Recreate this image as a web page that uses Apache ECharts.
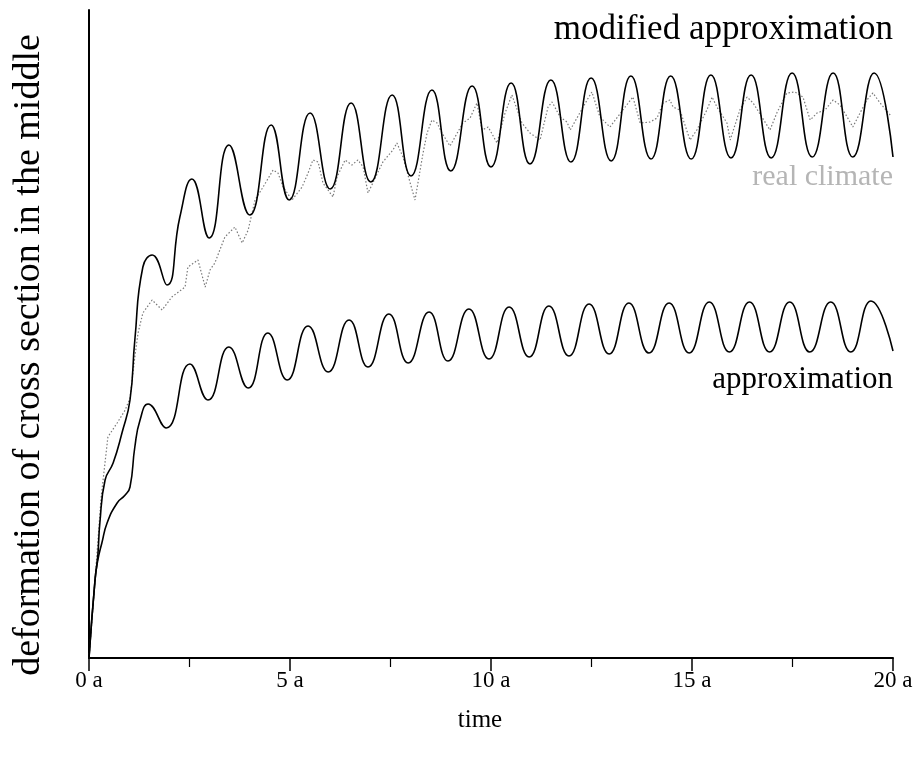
<!DOCTYPE html>
<html>
<head>
<meta charset="utf-8">
<script src="https://cdn.jsdelivr.net/npm/echarts@6/dist/echarts.min.js"></script>
<style>html,body{margin:0;padding:0;background:#fff}#c{width:916px;height:761px}</style>
</head>
<body>
<div id="c"></div>
<script>
// x-axis ticks
var xTicks = [0, 5, 10, 15, 20];
// modified approximation
var modT = [0, 0.15, 0.22, 0.27, 0.40, 0.60, 0.82, 1.02, 1.14, 1.34, 1.57, 1.94, 2.26, 2.56, 2.99, 3.48, 4.00, 4.53, 4.98, 5.50, 6.00, 6.52, 7.01, 7.54, 8.01, 8.53, 9.00, 9.53, 10.00, 10.50, 10.97, 11.49, 11.99, 12.49, 12.99, 13.48, 13.98, 14.47, 14.98, 15.47, 15.97, 16.47, 16.97, 17.49, 17.99, 18.51, 19.00, 19.53, 20.00];
var modV = [0, 78, 103, 135, 178, 195, 225, 258, 318, 391, 403, 373, 441, 479, 420, 513, 443, 533, 458, 545, 469, 555, 476, 563, 482, 568, 487, 572, 491, 575, 494, 578, 496, 580, 497, 582, 499, 582, 499, 583, 500, 583, 500, 585, 501, 585, 501, 585, 501];
// approximation
var apxT = [0, 0.15, 0.22, 0.32, 0.45, 0.70, 0.90, 1.02, 1.14, 1.27, 1.47, 1.92, 2.51, 2.96, 3.48, 3.96, 4.45, 4.93, 5.45, 5.95, 6.47, 6.94, 7.46, 7.94, 8.46, 8.93, 9.45, 9.95, 10.45, 10.95, 11.44, 11.94, 12.44, 12.94, 13.43, 13.93, 14.43, 14.93, 15.43, 15.93, 16.43, 16.93, 17.43, 17.93, 18.45, 18.95, 19.45, 20.00];
var apxV = [0, 78, 98, 115, 135, 155, 163, 171, 211, 238, 254, 230, 294, 258, 311, 270, 325, 278, 332, 286, 338, 291, 344, 295, 346, 297, 349, 299, 351, 301, 352, 302, 354, 304, 355, 305, 355, 305, 356, 306, 356, 306, 356, 306, 356, 306, 357, 307];
// real climate
var realT = [0, 0.15, 0.30, 0.47, 0.70, 0.90, 1.02, 1.14, 1.22, 1.34, 1.57, 1.82, 2.06, 2.39, 2.46, 2.71, 2.89, 3.01, 3.13, 3.38, 3.63, 3.81, 3.96, 4.13, 4.33, 4.58, 4.70, 4.83, 5.05, 5.30, 5.45, 5.57, 5.70, 5.82, 6.07, 6.17, 6.37, 6.54, 6.69, 6.82, 6.94, 7.06, 7.31, 7.56, 7.66, 7.81, 7.99, 8.11, 8.31, 8.41, 8.53, 8.66, 8.78, 8.98, 9.30, 9.48, 9.65, 9.78, 9.93, 10.15, 10.35, 10.52, 10.77, 10.97, 11.22, 11.42, 11.52, 11.72, 11.89, 11.97, 12.39, 12.51, 12.71, 12.96, 13.28, 13.53, 13.71, 13.96, 14.13, 14.28, 14.45, 14.53, 14.70, 14.95, 15.12, 15.37, 15.50, 15.62, 15.87, 15.95, 16.19, 16.37, 16.52, 16.94, 17.11, 17.36, 17.56, 17.76, 17.94, 18.11, 18.31, 18.51, 18.68, 18.86, 19.00, 19.18, 19.35, 19.50, 19.68, 19.93];
var realV = [0, 78, 160, 221, 235, 248, 260, 301, 325, 345, 358, 348, 361, 371, 391, 398, 371, 388, 395, 421, 431, 415, 428, 458, 471, 488, 485, 471, 458, 471, 485, 498, 496, 475, 461, 481, 498, 493, 498, 491, 465, 475, 496, 508, 515, 501, 475, 458, 505, 525, 538, 535, 525, 512, 535, 540, 555, 528, 531, 515, 545, 563, 535, 525, 518, 551, 556, 541, 536, 528, 558, 566, 541, 531, 548, 561, 535, 536, 540, 555, 558, 551, 548, 518, 528, 548, 561, 551, 535, 518, 548, 561, 555, 528, 545, 565, 566, 561, 538, 545, 548, 558, 553, 541, 531, 545, 558, 565, 555, 543];

function zip(a, b) { return a.map(function (v, i) { return [v, b[i]]; }); }

var serif = '"Liberation Serif", "Times New Roman", serif';
var chart = echarts.init(document.getElementById('c'), null, { renderer: 'canvas' });
chart.setOption({
  animation: false,
  backgroundColor: '#fff',
  grid: { left: 89, right: 23, top: 10, bottom: 103, containLabel: false },
  xAxis: {
    type: 'value', min: 0, max: 20, interval: 5,
    axisLine: { show: true, onZero: false, lineStyle: { color: '#000', width: 2 } },
    axisTick: { show: true, inside: false, length: 13, lineStyle: { color: '#000', width: 1.5 } },
    minorTick: { show: true, splitNumber: 2, length: 9, lineStyle: { color: '#000', width: 1.2 } },
    axisLabel: { margin: 11, color: '#000', fontFamily: serif, fontSize: 23,
      formatter: function (v) { return xTicks.indexOf(v) >= 0 ? v + ' a' : ''; } },
    splitLine: { show: false }
  },
  yAxis: {
    type: 'value', min: 0, max: 648,
    axisLine: { show: true, lineStyle: { color: '#000', width: 2 } },
    axisTick: { show: false }, axisLabel: { show: false }, splitLine: { show: false }
  },
  series: [
    { name: 'real climate', type: 'line', data: zip(realT, realV), showSymbol: false, smooth: false,
      lineStyle: { color: '#7a7a7a', width: 1.2, type: [1.5, 2] }, z: 1 },
    { name: 'modified approximation', type: 'line', data: zip(modT, modV), showSymbol: false, smooth: 0.5,
      lineStyle: { color: '#000', width: 1.6 }, z: 2 },
    { name: 'approximation', type: 'line', data: zip(apxT, apxV), showSymbol: false, smooth: 0.5,
      lineStyle: { color: '#000', width: 1.6 }, z: 2 }
  ],
  graphic: [
    { type: 'text', right: 23, top: 12, style: { text: 'modified approximation', fill: '#000', font: '35px ' + serif } },
    { type: 'text', right: 23, top: 162, style: { text: 'real climate', fill: '#b5b5b5', font: '30px ' + serif } },
    { type: 'text', right: 23, top: 364, style: { text: 'approximation', fill: '#000', font: '31px ' + serif } },
    { type: 'text', x: 480, y: 720, style: { text: 'time', fill: '#000', font: '25px ' + serif, align: 'center', verticalAlign: 'middle' } },
    { type: 'text', x: 29, y: 355, rotation: Math.PI / 2, style: { text: 'deformation of cross section in the middle', fill: '#000', font: '38px ' + serif, align: 'center', verticalAlign: 'middle' } }
  ]
});
</script>
</body>
</html>
